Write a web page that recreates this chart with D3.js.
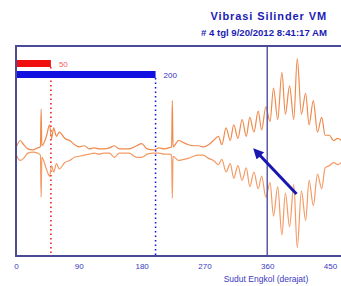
<!DOCTYPE html>
<html>
<head>
<meta charset="utf-8">
<script src="https://cdn.jsdelivr.net/npm/d3@7"></script>
<style>
  body { margin: 0; background: #fff; }
  text { font-family: "Liberation Sans", Arial, sans-serif; }
</style>
</head>
<body>
<div id="chart"></div>
<script>

// crank angle (deg) of each sample
let angles = [
    0, 6, 11, 17, 24, 31, 35, 36, 37, 44,
    48, 51, 54, 58, 62, 70, 77, 84, 91, 98,
    105, 112, 119, 126, 134, 141, 148, 162, 173, 180,
    188, 197, 205, 212, 219, 223, 224, 225, 233, 240,
    247, 254, 261, 268, 276, 283, 290, 295, 301, 307,
    312, 318, 324, 330, 335, 341, 347, 352, 358, 364,
    369, 375, 381, 386, 392, 398, 403, 409, 415, 420,
    426, 432, 438, 443, 449, 455, 461, 469
];

// upper trace (above zero)
let upperTrace = [
    3, 10, 6, 2, 1, 3, 4, 40, 5, 15,
    25, 12, 22, 14, 18, 12, 10, 6, 4, 5,
    2, 3, 2, 2, 3, 5, 2, 2, 5, 7,
    2, 1, 3, 2, 3, 4, 48, 4, 10, 8,
    6, 5, 5, 4, 6, 10, 14, 6, 22, 10,
    25, 12, 30, 14, 32, 18, 38, 20, 42, 28,
    60, 30, 75, 35, 62, 30, 88, 35, 55, 25,
    48, 18, 32, 15, 15, 10, 12, 8
];

// lower trace (below zero, stored as magnitude)
let lowerTrace = [
    3, 9, 7, 2, 1, 2, 4, 44, 6, 18,
    24, 14, 20, 12, 17, 11, 9, 6, 5, 4,
    3, 2, 3, 2, 2, 6, 2, 2, 6, 6,
    3, 2, 2, 3, 3, 4, 45, 5, 9, 8,
    7, 5, 4, 4, 7, 9, 13, 8, 20, 12,
    26, 14, 28, 16, 34, 20, 36, 24, 44, 30,
    62, 34, 80, 40, 72, 32, 92, 38, 66, 28,
    52, 22, 36, 16, 14, 11, 13, 9
];

let xTicks = [0, 90, 180, 270, 360, 450];
let markerValues = [50, 200];
let markerColors = ["#f01010", "#1010e0"];
let tdcAngle = 360;

let titleLines = ["Vibrasi Silinder VM", "# 4 tgl 9/20/2012 8:41:17 AM"];

let width = 341, height = 286;

let svg = d3.select("#chart").append("svg")
    .attr("width", width)
    .attr("height", height);

let plot = { left: 16, top: 46, bottom: 256, right: 344 };

let x = d3.scaleLinear().domain([0, 470]).range([plot.left, plot.right]);
let y = d3.scaleLinear().domain([-100, 100]).range([plot.bottom, plot.top]);

// title
svg.selectAll(".title")
    .data(titleLines)
    .enter().append("text")
    .attr("class", "title")
    .attr("x", 327)
    .attr("y", (d, i) => 20 + i * 16)
    .attr("text-anchor", "end")
    .attr("font-size", (d, i) => i === 0 ? "11px" : "9.6px")
    .attr("letter-spacing", (d, i) => i === 0 ? "0.9px" : "0px")
    .attr("font-weight", "bold")
    .attr("fill", "#1c1cb4")
    .text(d => d);

// marker dotted lines
svg.selectAll(".marker")
    .data(markerValues)
    .enter().append("line")
    .attr("x1", d => x(d)).attr("x2", d => x(d))
    .attr("y1", (d, i) => 67 + i * 11)
    .attr("y2", plot.bottom)
    .attr("stroke", (d, i) => markerColors[i])
    .attr("stroke-width", 1.5)
    .attr("stroke-dasharray", "1.5,3");

// marker bars
svg.selectAll(".bar")
    .data(markerValues)
    .enter().append("rect")
    .attr("x", x(0))
    .attr("y", (d, i) => 60 + i * 11)
    .attr("width", d => x(d) - x(0))
    .attr("height", 7)
    .attr("fill", (d, i) => markerColors[i]);

svg.selectAll(".barLabel")
    .data(markerValues)
    .enter().append("text")
    .attr("x", d => x(d) + 8)
    .attr("y", (d, i) => 67 + i * 11)
    .attr("font-size", "8px")
    .attr("fill", (d, i) => i === 0 ? "#f06060" : "#3030c0")
    .text(d => d);

// vibration traces
let upperLine = d3.line()
    .x((d, i) => x(angles[i]))
    .y(d => y(d))
    .curve(d3.curveMonotoneX);

let lowerLine = d3.line()
    .x((d, i) => x(angles[i]))
    .y(d => y(-d))
    .curve(d3.curveMonotoneX);

svg.append("path")
    .datum(upperTrace)
    .attr("d", upperLine)
    .attr("fill", "none")
    .attr("stroke", "#f08a4c")
    .attr("stroke-width", 1.2);

svg.append("path")
    .datum(lowerTrace)
    .attr("d", lowerLine)
    .attr("fill", "none")
    .attr("stroke", "#f59a64")
    .attr("stroke-width", 1.2);

// TDC line at 360
svg.append("line")
    .attr("x1", x(tdcAngle)).attr("x2", x(tdcAngle))
    .attr("y1", plot.top).attr("y2", plot.bottom)
    .attr("stroke", "#5a5aa6")
    .attr("stroke-width", 1.5);

// frame
svg.append("rect")
    .attr("x", plot.left)
    .attr("y", plot.top)
    .attr("width", plot.right - plot.left)
    .attr("height", plot.bottom - plot.top)
    .attr("fill", "none")
    .attr("stroke", "#4a4a96")
    .attr("stroke-width", 2);

// arrow
svg.append("defs").append("marker")
    .attr("id", "head")
    .attr("viewBox", "0 0 10 10")
    .attr("refX", 5).attr("refY", 5)
    .attr("markerWidth", 3.5).attr("markerHeight", 3.5)
    .attr("orient", "auto")
    .append("path")
    .attr("d", "M0,0L10,5L0,10Z")
    .attr("fill", "#1818b0");

svg.append("line")
    .attr("x1", x(402)).attr("y1", y(-41))
    .attr("x2", x(345)).attr("y2", y(-1))
    .attr("stroke", "#1818b0")
    .attr("stroke-width", 3)
    .attr("marker-end", "url(#head)");

// x axis
let xAxis = d3.axisBottom(x).tickValues(xTicks).tickSize(0).tickPadding(7);
let gx = svg.append("g")
    .attr("transform", "translate(0," + plot.bottom + ")")
    .call(xAxis);
gx.select(".domain").remove();
gx.selectAll("text")
    .attr("font-size", "8px")
    .attr("font-family", "Liberation Sans, Arial, sans-serif")
    .attr("fill", "#3a3ac0");

svg.append("text")
    .attr("x", 266)
    .attr("y", 282)
    .attr("text-anchor", "middle")
    .attr("font-size", "8.5px")
    .attr("fill", "#3a3ac0")
    .text("Sudut Engkol (derajat)");

</script>
</body>
</html>
